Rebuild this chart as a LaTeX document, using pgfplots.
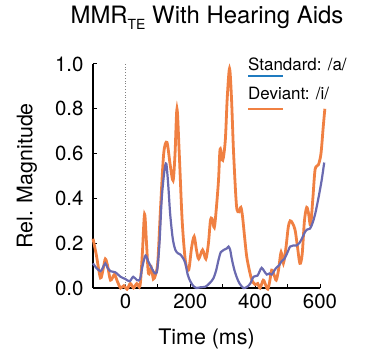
\documentclass[border=0pt]{standalone}
\usepackage{pgfplots}
\pgfplotsset{compat=1.18}
\usepackage{fontspec}
\setmainfont{TeX Gyre Heros}
\definecolor{dev}{RGB}{240,128,66}
\definecolor{std}{RGB}{106,106,176}
\definecolor{legblue}{RGB}{31,123,192}
\begin{document}
\begin{tikzpicture}[x=1bp,y=1bp]
\path[use as bounding box] (-93bp,-67bp) rectangle (287bp,288bp);
\begin{axis}[
  at={(0,0)}, anchor=south west,
  scale only axis, width=227bp, height=224bp,
  xmin=-100, xmax=600, ymin=0, ymax=1,
  clip=false,
  axis x line*=bottom, axis y line*=left,
  axis line style={line width=1.2bp, black},
  tick align=inside, major tick length=4bp,
  tick style={line width=1bp, black},
  xtick={-100,0,100,200,300,400,500,600},
  xticklabels={,0,,200,,400,,600},
  ytick={0,0.2,0.4,0.6,0.8,1.0},
  yticklabel style={/pgf/number format/fixed, /pgf/number format/precision=1, /pgf/number format/fixed zerofill, xshift=-6bp},
  /pgf/number format/assume math mode=true,
  ticklabel style={font=\fontsize{20.5}{20.5}\selectfont},
  xticklabel style={yshift=-2bp},
]
\addplot[gray, dotted, line width=0.8bp] coordinates {(0,0) (0,1)};
\addplot[dev, line width=2.8bp, smooth, tension=0.5] coordinates {
(-100,0.22) (-90,0.15) (-77,0.045) (-68,0.09) (-62,0.13) (-55,0.1) (-46,0.035) (-34,0.06) (-25,0.03) (-15,0.0) (-5,0.01) (5,-0.005) (15,0.02) (25,0.0) (35,0.02) (45,0.01) (52,0.15) (59,0.33) (65,0.2) (71,0.065) (80,0.09) (86,0.04) (93,0.06) (100,0.12) (108,0.35) (118,0.6) (128,0.65) (138,0.55) (147,0.48) (153,0.6) (159,0.80) (166,0.6) (175,0.3) (185,0.12) (195,0.08) (204,0.18) (212,0.23) (219,0.17) (226,0.13) (238,0.17) (248,0.13) (256,0.2) (262,0.3) (267,0.31) (274,0.27) (280,0.35) (287,0.48) (292,0.62) (300,0.57) (308,0.66) (314,0.85) (321,0.98) (327,0.85) (333,0.62) (340,0.42) (344,0.35) (350,0.34) (356,0.36) (361,0.32) (368,0.22) (374,0.14) (382,0.08) (390,0.035) (400,0.015) (408,0.02) (415,0.0) (425,0.035) (432,0.015) (439,-0.005) (445,0.03) (451,0.08) (458,0.06) (465,0.035) (472,0.08) (480,0.16) (487,0.11) (495,0.18) (502,0.27) (508,0.30) (515,0.29) (523,0.26) (530,0.19) (538,0.11) (545,0.15) (552,0.3) (559,0.36) (565,0.33) (571,0.28) (578,0.4) (585,0.53) (595,0.55) (603,0.6) (610,0.72) (615,0.80)
};
\addplot[std, line width=2.2bp, smooth, tension=0.5] coordinates {
(-100,0.11) (-90,0.09) (-77,0.075) (-70,0.09) (-62,0.11) (-55,0.09) (-46,0.075) (-31,0.07) (-15,0.05) (0,0.04) (13,0.03) (24,0.05) (36,0.035) (45,0.04) (53,0.1) (62,0.145) (70,0.12) (77,0.1) (86,0.075) (92,0.065) (98,0.08) (105,0.2) (112,0.4) (120,0.52) (126,0.555) (132,0.46) (138,0.33) (146,0.22) (154,0.17) (162,0.155) (169,0.15) (177,0.135) (185,0.11) (192,0.06) (200,0.03) (210,0.008) (220,0.0) (231,0.003) (245,0.005) (251,0.01) (262,0.025) (272,0.045) (280,0.08) (287,0.125) (294,0.16) (303,0.17) (313,0.177) (318,0.185) (323,0.17) (328,0.13) (336,0.08) (344,0.045) (352,0.02) (364,0.0) (375,0.005) (385,0.02) (395,0.05) (407,0.055) (414,0.075) (420,0.09) (428,0.075) (436,0.06) (444,0.065) (451,0.06) (458,0.075) (465,0.09) (473,0.1) (482,0.12) (490,0.13) (497,0.15) (503,0.17) (508,0.185) (518,0.19) (528,0.19) (536,0.2) (544,0.22) (552,0.245) (559,0.26) (569,0.265) (577,0.29) (585,0.33) (595,0.4) (605,0.48) (613,0.56)
};
\node[anchor=west, font=\fontsize{17}{17}\selectfont, inner sep=0pt] at (axis cs:378,1.0) {Standard: /a/};
\draw[legblue, line width=1.5bp] (axis cs:378,0.946) -- (axis cs:486,0.946);
\node[anchor=west, font=\fontsize{17}{17}\selectfont, inner sep=0pt] at (axis cs:378,0.87) {Deviant: /i/};
\draw[dev, line width=1.5bp] (axis cs:378,0.80) -- (axis cs:486,0.80);
\end{axis}
\node[font=\fontsize{24}{24}\selectfont] at (114bp,270bp) {MMR\raisebox{-0.45ex}{\fontsize{14}{14}\selectfont TE} With Hearing Aids};
\node[font=\fontsize{21.5}{21.5}\selectfont] at (113.5bp,-51bp) {Time (ms)};
\node[font=\fontsize{21.5}{21.5}\selectfont, rotate=90] at (-66bp,112bp) {Rel. Magnitude};
\end{tikzpicture}
\end{document}
